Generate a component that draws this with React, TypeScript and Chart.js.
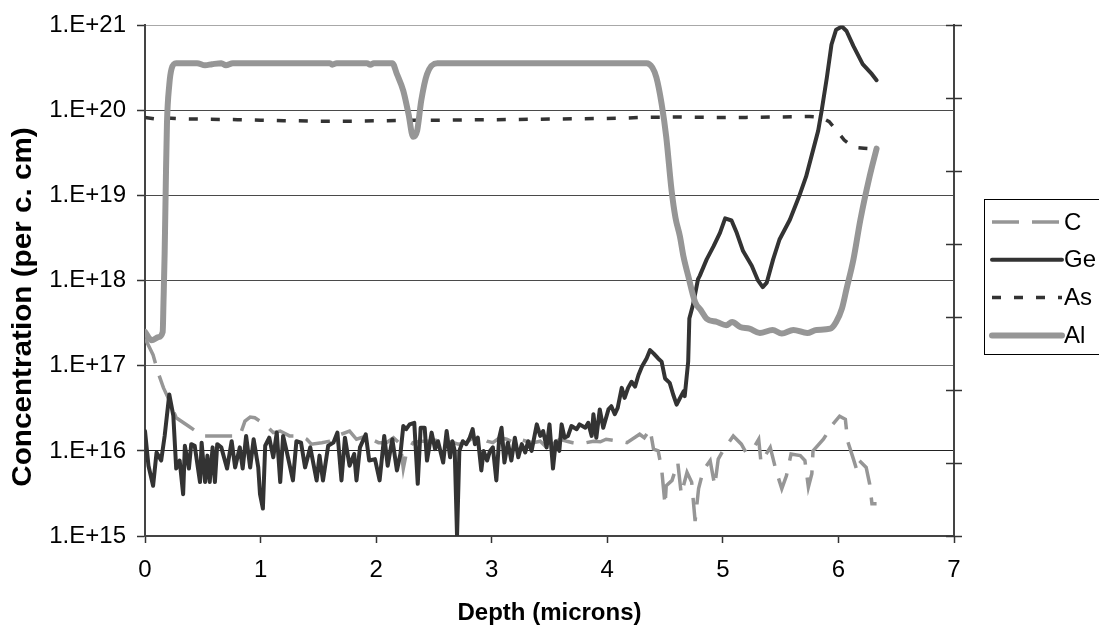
import React, { useEffect, useRef } from 'react';
import { Chart, registerables } from 'chart.js';

Chart.register(...registerables);

const FONT = '"Liberation Sans", Arial, Helvetica, sans-serif';

const xTitle = 'Depth (microns)';
const yTitle = 'Concentration (per c. cm)';
const seriesNames = ['C', 'Ge', 'As', 'Al'];
const xTickValues = [0, 1, 2, 3, 4, 5, 6, 7];
const yTickValues = [1e15, 1e16, 1e17, 1e18, 1e19, 1e20, 1e21];
const yTickLabels = ['1.E+15', '1.E+16', '1.E+17', '1.E+18', '1.E+19', '1.E+20', '1.E+21'];
const rightTickValues = [0, 1, 2, 3, 4, 5, 6, 7];

// C (carbon)
const cDepth = [
  0.0, 0.07, 0.115, 0.16, 0.2, 0.27, 0.375, 0.5, 0.62, 0.71,
  0.82, 0.865, 0.91, 0.95, 1.04, 1.11, 1.17, 1.25, 1.34, 1.4,
  1.44, 1.53, 1.6, 1.66, 1.77, 1.83, 1.92, 1.96, 2.02, 2.09,
  2.15, 2.21, 2.235, 2.26, 2.32, 2.38, 2.49, 2.55, 2.61, 2.67,
  2.71, 2.78, 2.84, 2.9, 2.96, 3.01, 3.07, 3.13, 3.19, 3.24,
  3.3, 3.36, 3.42, 3.475, 3.5, 3.53, 3.59, 3.65, 3.7, 3.76,
  3.82, 3.88, 3.94, 3.99, 4.05, 4.11, 4.17, 4.28, 4.32, 4.37,
  4.4, 4.44, 4.47, 4.5, 4.51, 4.56, 4.61, 4.64, 4.69, 4.73,
  4.76, 4.79, 4.83, 4.89, 4.93, 4.96, 5.0, 5.09, 5.16, 5.2,
  5.26, 5.31, 5.33, 5.41, 5.46, 5.51, 5.55, 5.59, 5.67, 5.71,
  5.74, 5.77, 5.78, 5.87, 5.95, 6.01, 6.06, 6.08, 6.13, 6.16,
  6.18, 6.24, 6.27, 6.29, 6.33,
];
const cConc = [
  2.1e17, 1.34e17, 8.2e16, 5.5e16, 4.2e16, 2.45e16, 1.96e16, 1.5e16, 1.5e16, 1.5e16,
  1.5e16, 2.24e16, 2.5e16, 2.45e16, 2.05e16, 1.64e16, 1.71e16, 1.5e16, 1.5e16, 1.37e16,
  1.2e16, 1.25e16, 1.3e16, 1.5e16, 1.71e16, 1.37e16, 1.5e16, 1.37e16, 1.25e16, 1.25e16,
  1.43e16, 1.2e16, 6.2e15, 9.2e15, 1.25e16, 1.3e16, 1.3e16, 1.37e16, 1.3e16, 1.25e16,
  1.2e16, 1.25e16, 1.43e16, 1.43e16, 1.3e16, 1.25e16, 1.43e16, 1.37e16, 1.25e16, 1.37e16,
  1.3e16, 1.25e16, 1.3e16, 1.1e16, 9.2e15, 1.2e16, 1.37e16, 1.3e16, 1.25e16, 1.22e16,
  1.25e16, 1.3e16, 1.28e16, 1.37e16, 1.33e16, 1.3e16, 1.25e16, 1.57e16, 1.43e16, 1.8e16,
  1.05e16, 1.0e16, 6.2e15, 2.3e15, 3.9e15, 4.5e15, 7.3e15, 3.1e15, 5.6e15, 4.3e15,
  1.5e15, 3.6e15, 5.9e15, 7.7e15, 3.9e15, 8.0e15, 1.0e16, 1.5e16, 1.2e16, 9.6e15,
  1.05e16, 1.37e16, 7.3e15, 1.1e16, 5.9e15, 3.6e15, 5.1e15, 9.2e15, 8.8e15, 7.7e15,
  3.75e15, 5.4e15, 1.0e16, 1.37e16, 2.05e16, 2.56e16, 2.35e16, 1.3e16, 8.0e15, 5.9e15,
  7.7e15, 6.4e15, 4.1e15, 2.4e15, 2.4e15,
];

// Ge (germanium)
const geDepth = [
  0.0, 0.03, 0.07, 0.1, 0.14, 0.17, 0.21, 0.245, 0.27, 0.3,
  0.33, 0.345, 0.38, 0.4, 0.43, 0.476, 0.49, 0.52, 0.54, 0.56,
  0.585, 0.605, 0.625, 0.66, 0.71, 0.75, 0.78, 0.82, 0.845, 0.875,
  0.91, 0.94, 0.98, 0.995, 1.02, 1.04, 1.075, 1.11, 1.14, 1.17,
  1.195, 1.225, 1.28, 1.31, 1.35, 1.385, 1.43, 1.485, 1.51, 1.54,
  1.585, 1.63, 1.665, 1.7, 1.73, 1.77, 1.81, 1.83, 1.86, 1.91,
  1.94, 1.99, 2.03, 2.07, 2.1, 2.14, 2.18, 2.21, 2.235, 2.26,
  2.29, 2.33, 2.36, 2.385, 2.42, 2.44, 2.48, 2.51, 2.535, 2.58,
  2.61, 2.64, 2.66, 2.68, 2.7, 2.72, 2.75, 2.78, 2.81, 2.835,
  2.855, 2.88, 2.91, 2.93, 2.96, 2.985, 3.01, 3.04, 3.065, 3.085,
  3.11, 3.14, 3.17, 3.2, 3.23, 3.26, 3.29, 3.315, 3.345, 3.39,
  3.42, 3.445, 3.475, 3.5, 3.53, 3.555, 3.585, 3.605, 3.63, 3.66,
  3.69, 3.735, 3.76, 3.81, 3.835, 3.865, 3.88, 3.905, 3.935, 3.965,
  4.01, 4.035, 4.065, 4.09, 4.125, 4.15, 4.18, 4.21, 4.24, 4.27,
  4.3, 4.34, 4.37, 4.4, 4.44, 4.47, 4.5, 4.54, 4.57, 4.6,
  4.63, 4.66, 4.67, 4.7, 4.71, 4.74, 4.785, 4.8, 4.86, 4.92,
  4.975, 5.02, 5.075, 5.12, 5.175, 5.25, 5.305, 5.345, 5.38, 5.435,
  5.49, 5.58, 5.66, 5.72, 5.78, 5.825, 5.855, 5.9, 5.94, 5.98,
  6.03, 6.07, 6.13, 6.21, 6.29, 6.33,
];
const geConc = [
  1.71e16, 6.7e15, 3.9e15, 9.6e15, 7.7e15, 1.5e16, 4.6e16, 2.6e16, 6.2e15, 7.7e15,
  3.1e15, 1.15e16, 6.2e15, 1.2e16, 1.15e16, 4.3e15, 1.25e16, 4.3e15, 8.8e15, 4.3e15,
  1.1e16, 4.3e15, 1.2e16, 1.1e16, 6.2e15, 1.3e16, 6.4e15, 1.1e16, 6.2e15, 1.5e16,
  6.4e15, 1.37e16, 6.4e15, 3.1e15, 2.1e15, 1.15e16, 1.43e16, 8.4e15, 1.64e16, 4.3e15,
  1.5e16, 1.0e16, 4.5e15, 1.3e16, 1.25e16, 6.4e15, 1.1e16, 4.5e15, 8.8e15, 4.5e15,
  1.15e16, 1.25e16, 1.64e16, 4.5e15, 1.43e16, 6.7e15, 9.2e15, 4.5e15, 1.1e16, 1.57e16,
  7.7e15, 8.0e15, 4.5e15, 1.5e16, 6.7e15, 1.37e16, 5.9e15, 9.2e15, 1.96e16, 1.8e16,
  2.05e16, 2.14e16, 4.1e15, 1.87e16, 1.87e16, 7.7e15, 1.64e16, 1.05e16, 1.3e16, 7.3e15,
  1.71e16, 8.4e15, 1.3e16, 1.0e16, 1.0e15, 1.0e16, 1.3e16, 1.2e16, 1.43e16, 1.8e16,
  1.2e16, 1.43e16, 5.9e15, 1.0e16, 7.7e15, 1.0e16, 1.1e16, 4.5e15, 1.43e16, 1.87e16,
  7.3e15, 1.25e16, 7.7e15, 1.43e16, 8.4e15, 1.2e16, 9.6e15, 1.3e16, 1.0e16, 2.05e16,
  1.5e16, 1.71e16, 1.1e16, 2.05e16, 6.2e15, 1.3e16, 1.0e16, 2.05e16, 1.43e16, 1.5e16,
  1.96e16, 1.8e16, 2.05e16, 1.87e16, 2.14e16, 1.5e16, 2.7e16, 1.43e16, 3.07e16, 1.87e16,
  3.07e16, 3.35e16, 2.7e16, 3.2e16, 5.5e16, 4.2e16, 5.5e16, 6.5e16, 5.7e16, 7.8e16,
  9.8e16, 1.22e17, 1.53e17, 1.4e17, 1.22e17, 1.12e17, 7.1e16, 6.3e16, 4.6e16, 3.5e16,
  4.2e16, 5.0e16, 4.4e16, 1.12e17, 3.6e17, 5.1e17, 1.04e18, 1.14e18, 1.78e18, 2.55e18,
  3.65e18, 5.4e18, 5.1e18, 3.65e18, 2.23e18, 1.5e18, 1.0e18, 8.4e17, 9.5e17, 1.78e18,
  3.05e18, 5.2e18, 9.8e18, 1.67e19, 3.4e19, 5.8e19, 1.0e20, 2.44e20, 5.96e20, 8.9e20,
  9.7e20, 8.6e20, 5.7e20, 3.5e20, 2.67e20, 2.27e20,
];

// As (arsenic)
const asDepth = [
  0.0, 0.08, 0.15, 0.3, 0.5, 0.8, 1.0, 1.2, 1.5, 1.8,
  2.1, 2.3, 2.6, 3.0, 3.4, 3.8, 4.1, 4.3, 4.6, 4.9,
  5.2, 5.5, 5.75, 5.85, 5.92, 5.98, 6.05, 6.13, 6.22, 6.33,
];
const asConc = [
  8.3e19, 8.0e19, 8.2e19, 8.0e19, 7.9e19, 7.8e19, 7.7e19, 7.6e19, 7.5e19, 7.5e19,
  7.6e19, 7.7e19, 7.7e19, 7.8e19, 7.9e19, 8.0e19, 8.1e19, 8.3e19, 8.4e19, 8.3e19,
  8.3e19, 8.4e19, 8.5e19, 8.3e19, 7.4e19, 5.9e19, 4.5e19, 3.7e19, 3.6e19, 3.5e19,
];

// Al (aluminium)
const alDepth = [
  0.0, 0.058, 0.115, 0.153, 0.16, 0.17, 0.18, 0.19, 0.21, 0.23,
  0.27, 0.45, 0.52, 0.58, 0.66, 0.7, 0.76, 1.6, 1.62, 1.66,
  1.92, 1.95, 1.98, 2.14, 2.18, 2.235, 2.28, 2.32, 2.355, 2.39,
  2.44, 2.53, 4.34, 4.39, 4.425, 4.47, 4.51, 4.556, 4.59, 4.628,
  4.66, 4.7, 4.76, 4.81, 4.86, 4.95, 5.03, 5.08, 5.15, 5.23,
  5.32, 5.43, 5.51, 5.61, 5.73, 5.81, 5.93, 5.98, 6.03, 6.07,
  6.13, 6.19, 6.27, 6.33,
];
const alConc = [
  2.5e17, 2.0e17, 2.17e17, 2.5e17, 5.6e17, 2.1e18, 1.4e19, 7.0e19, 2.0e20, 3.1e20,
  3.6e20, 3.6e20, 3.4e20, 3.5e20, 3.6e20, 3.4e20, 3.6e20, 3.6e20, 3.45e20, 3.6e20,
  3.6e20, 3.45e20, 3.6e20, 3.6e20, 2.67e20, 1.7e20, 9.1e19, 4.9e19, 5.8e19, 1.3e20,
  2.67e20, 3.6e20, 3.6e20, 3.2e20, 2.44e20, 1.2e20, 4.9e19, 1.16e19, 5.5e18, 3.34e18,
  1.9e18, 1.14e18, 5.6e17, 4.5e17, 3.57e17, 3.27e17, 3.0e17, 3.27e17, 2.86e17, 2.73e17,
  2.43e17, 2.64e17, 2.39e17, 2.64e17, 2.43e17, 2.64e17, 2.73e17, 3.27e17, 4.7e17, 8.0e17,
  1.78e18, 5.2e18, 1.68e19, 3.56e19,
];

const GRAY = '#969696';
const DARK = '#333333';

function toPoints(xs: number[], ys: number[]) {
  return xs.map((x, i) => ({ x, y: ys[i] }));
}

const overlayPlugin = {
  id: 'overlay',
  afterDraw(chart: any) {
    const ctx = chart.ctx as CanvasRenderingContext2D;
    const area = chart.chartArea;
    ctx.save();

    // right axis crossing tick marks
    const y2 = chart.scales.y2;
    ctx.strokeStyle = DARK;
    ctx.lineWidth = 1.5;
    rightTickValues.forEach((v) => {
      const py = Math.round(y2.getPixelForValue(v)) + 0.5;
      ctx.beginPath();
      ctx.moveTo(area.right - 8, py);
      ctx.lineTo(area.right + 8, py);
      ctx.stroke();
    });

    // y-axis title
    ctx.save();
    ctx.translate(31, 307);
    ctx.rotate(-Math.PI / 2);
    ctx.scale(1.06, 1);
    ctx.font = `bold 28px ${FONT}`;
    ctx.fillStyle = '#000';
    ctx.textAlign = 'center';
    ctx.textBaseline = 'alphabetic';
    ctx.fillText(yTitle, 0, 0);
    ctx.restore();

    // legend box
    const bx = 984.5, by = 199.5, bw = 140, bh = 155;
    ctx.fillStyle = '#fff';
    ctx.fillRect(bx, by, bw, bh);
    ctx.strokeStyle = '#000';
    ctx.lineWidth = 1;
    ctx.setLineDash([]);
    ctx.strokeRect(bx, by, bw, bh);
    chart.data.datasets.forEach((ds: any, i: number) => {
      const ly = 222 + i * 37.8;
      ctx.save();
      ctx.strokeStyle = ds.borderColor;
      ctx.lineWidth = ds.borderWidth;
      ctx.lineCap = ds.borderCapStyle || 'butt';
      ctx.setLineDash(ds.borderDash || []);
      ctx.beginPath();
      ctx.moveTo(992, ly);
      ctx.lineTo(1062, ly);
      ctx.stroke();
      ctx.restore();
      ctx.fillStyle = '#000';
      ctx.font = `24px ${FONT}`;
      ctx.textAlign = 'left';
      ctx.textBaseline = 'middle';
      ctx.fillText(seriesNames[i], 1064, ly + 1);
    });
    ctx.restore();
  },
};

export default function App() {
  const ref = useRef<HTMLCanvasElement | null>(null);

  useEffect(() => {
    if (!ref.current) return;
    const tickFont = { family: FONT, size: 24, lineHeight: 1.2 };
    const chart = new Chart(ref.current, {
      type: 'line',
      data: {
        datasets: [
          {
            label: seriesNames[0],
            data: toPoints(cDepth, cConc),
            borderColor: GRAY,
            borderWidth: 3.5,
            borderDash: [27, 13],
            borderCapStyle: 'butt',
            pointRadius: 0,
            tension: 0,
            order: 3,
          },
          {
            label: seriesNames[1],
            data: toPoints(geDepth, geConc),
            borderColor: DARK,
            borderWidth: 4,
            borderCapStyle: 'round',
            borderJoinStyle: 'round',
            pointRadius: 0,
            tension: 0,
            order: 2,
          },
          {
            label: seriesNames[2],
            data: toPoints(asDepth, asConc),
            borderColor: DARK,
            borderWidth: 3.5,
            borderDash: [9, 13],
            borderCapStyle: 'butt',
            pointRadius: 0,
            tension: 0,
            order: 1,
          },
          {
            label: seriesNames[3],
            data: toPoints(alDepth, alConc),
            borderColor: GRAY,
            borderWidth: 6,
            borderCapStyle: 'round',
            borderJoinStyle: 'round',
            pointRadius: 0,
            cubicInterpolationMode: 'monotone',
            order: 0,
          },
        ] as any,
      },
      options: {
        animation: false,
        responsive: true,
        maintainAspectRatio: false,
        events: [],
        layout: { padding: { left: 0, right: 135, top: 20, bottom: 0 } },
        plugins: { legend: { display: false }, tooltip: { enabled: false } },
        scales: {
          x: {
            type: 'linear',
            position: 'bottom',
            min: 0,
            max: 7,
            afterBuildTicks: (s: any) => {
              s.ticks = xTickValues.map((v) => ({ value: v }));
            },
            afterFit: (s: any) => {
              s.height = 91;
            },
            ticks: { font: tickFont, color: '#000', padding: 13, maxRotation: 0, autoSkip: false },
            grid: { drawOnChartArea: false, tickLength: 7, tickColor: DARK, tickWidth: 1.5 },
            border: { display: true, color: '#444', width: 2 },
            title: {
              display: true,
              text: xTitle,
              color: '#000',
              font: { family: FONT, size: 24, weight: 'bold', lineHeight: 1 },
              padding: { top: 0, bottom: 1.5 },
            },
          },
          y: {
            type: 'logarithmic',
            position: 'left',
            min: 1e15,
            max: 1e21,
            afterBuildTicks: (s: any) => {
              s.ticks = yTickValues.map((v) => ({ value: v }));
            },
            afterFit: (s: any) => {
              s.width = 145;
            },
            ticks: {
              font: tickFont,
              color: '#000',
              padding: 11,
              autoSkip: false,
              callback: (v: any) => {
                const idx = yTickValues.indexOf(Number(v));
                return idx >= 0 ? yTickLabels[idx] : '';
              },
            },
            grid: {
              lineWidth: 1,
              tickLength: 8,
              tickColor: DARK,
              tickWidth: 1.5,
              color: (c: any) => {
                const v = c.tick ? c.tick.value : 0;
                if (v === 1e21) return '#a8a8a8';
                if (v === 1e16) return '#222';
                if (v === 1e17) return '#707070';
                return '#4a4a4a';
              },
            },
            border: { display: true, color: '#444', width: 2 },
          },
          y2: {
            type: 'linear',
            position: 'right',
            min: 0,
            max: 7,
            afterBuildTicks: (s: any) => {
              s.ticks = rightTickValues.map((v) => ({ value: v }));
            },
            afterFit: (s: any) => {
              s.width = 10;
            },
            ticks: { display: false },
            grid: { display: false, drawOnChartArea: false },
            border: { display: true, color: '#444', width: 2 },
          },
        },
      } as any,
      plugins: [overlayPlugin],
    });
    return () => chart.destroy();
  }, []);

  return (
    <div style={{ position: 'fixed', left: 0, top: 0, width: 1099, height: 627, background: '#fff' }}>
      <canvas ref={ref} />
    </div>
  );
}
